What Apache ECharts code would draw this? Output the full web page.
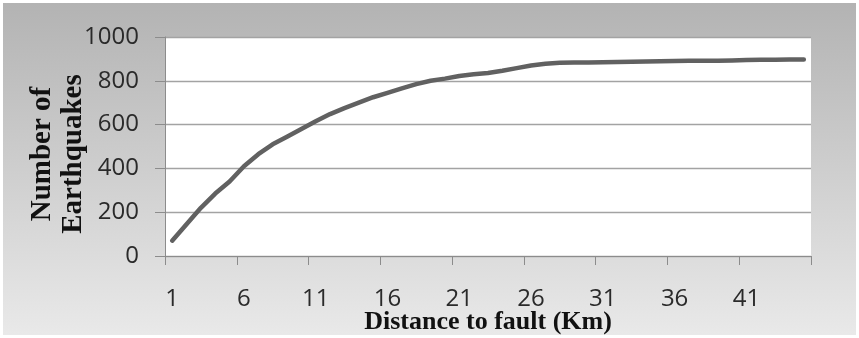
<!DOCTYPE html>
<html>
<head>
<meta charset="utf-8">
<script src="https://cdn.jsdelivr.net/npm/echarts@6/dist/echarts.min.js"></script>
<style>
  html, body { margin: 0; padding: 0; background: #ffffff; }
  #chart { position: absolute; left: 3px; top: 3px; width: 853px; height: 332px; }
</style>
</head>
<body>
<div id="chart"></div>
<script>
// Distance to fault, in km (one category per km)
const distances = [];
for (let d = 1; d <= 45; d++) distances.push(String(d));

// Cumulative number of earthquakes within each distance
const earthquakeCounts = [
  70, 145, 220, 285, 340, 410, 465, 510, 545, 580,
  615, 648, 675, 700, 725, 745, 765, 785, 800, 810,
  822, 830, 836, 846, 858, 870, 878, 882, 883, 884,
  885, 886, 887, 888, 889, 890, 891, 892, 892, 893,
  895, 896, 896, 897, 897
];

const yTicks = { min: 0, max: 1000, step: 200 };

const chart = echarts.init(document.getElementById('chart'), null, { renderer: 'canvas' });

const labelFont = { fontFamily: 'Open Sans', fontSize: 24, color: '#2a2a2a' };

chart.setOption({
  animation: false,
  backgroundColor: {
    type: 'linear', x: 0, y: 0, x2: 0, y2: 1,
    colorStops: [
      { offset: 0, color: '#b3b3b3' },
      { offset: 1, color: '#e9e9e9' }
    ]
  },
  grid: {
    left: 162, top: 34, width: 646, height: 219,
    outerBoundsMode: 'none',
    containLabel: false,
    show: true, backgroundColor: '#ffffff', borderWidth: 0
  },
  xAxis: {
    type: 'category',
    data: distances,
    boundaryGap: true,
    name: 'Distance to fault (Km)',
    nameLocation: 'middle',
    nameGap: 66,
    nameMoveOverlap: false,
    nameTextStyle: {
      fontFamily: 'Liberation Serif', fontWeight: 'bold', fontSize: 26,
      color: '#111111', verticalAlign: 'middle'
    },
    axisLine: { lineStyle: { color: '#8c8c8c', width: 1 } },
    axisTick: { show: true, interval: 4, length: 9, lineStyle: { color: '#8c8c8c' } },
    axisLabel: Object.assign({ interval: 4, margin: 31 }, labelFont),
    splitLine: { show: false }
  },
  yAxis: {
    type: 'value',
    min: yTicks.min, max: yTicks.max, interval: yTicks.step,
    axisLine: { show: true, lineStyle: { color: '#8c8c8c', width: 1 } },
    axisTick: { show: true, length: 10, lineStyle: { color: '#8c8c8c' } },
    axisLabel: Object.assign({ margin: 26, formatter: v => String(v) }, labelFont),
    splitLine: { lineStyle: { color: '#a3a3a3', width: 1.3 } }
  },
  graphic: [{
    type: 'text',
    x: 55, y: 151,
    rotation: Math.PI / 2,
    style: {
      text: 'Number of\nEarthquakes',
      fontFamily: 'Liberation Serif',
      fontWeight: 'bold',
      fontSize: 29,
      fill: '#111111',
      align: 'center',
      verticalAlign: 'middle',
      lineHeight: 31
    }
  }],
  series: [{
    type: 'line',
    data: earthquakeCounts,
    showSymbol: false,
    smooth: false,
    lineStyle: { color: '#616161', width: 4.5, cap: 'round', join: 'round' }
  }]
});
</script>
</body>
</html>
